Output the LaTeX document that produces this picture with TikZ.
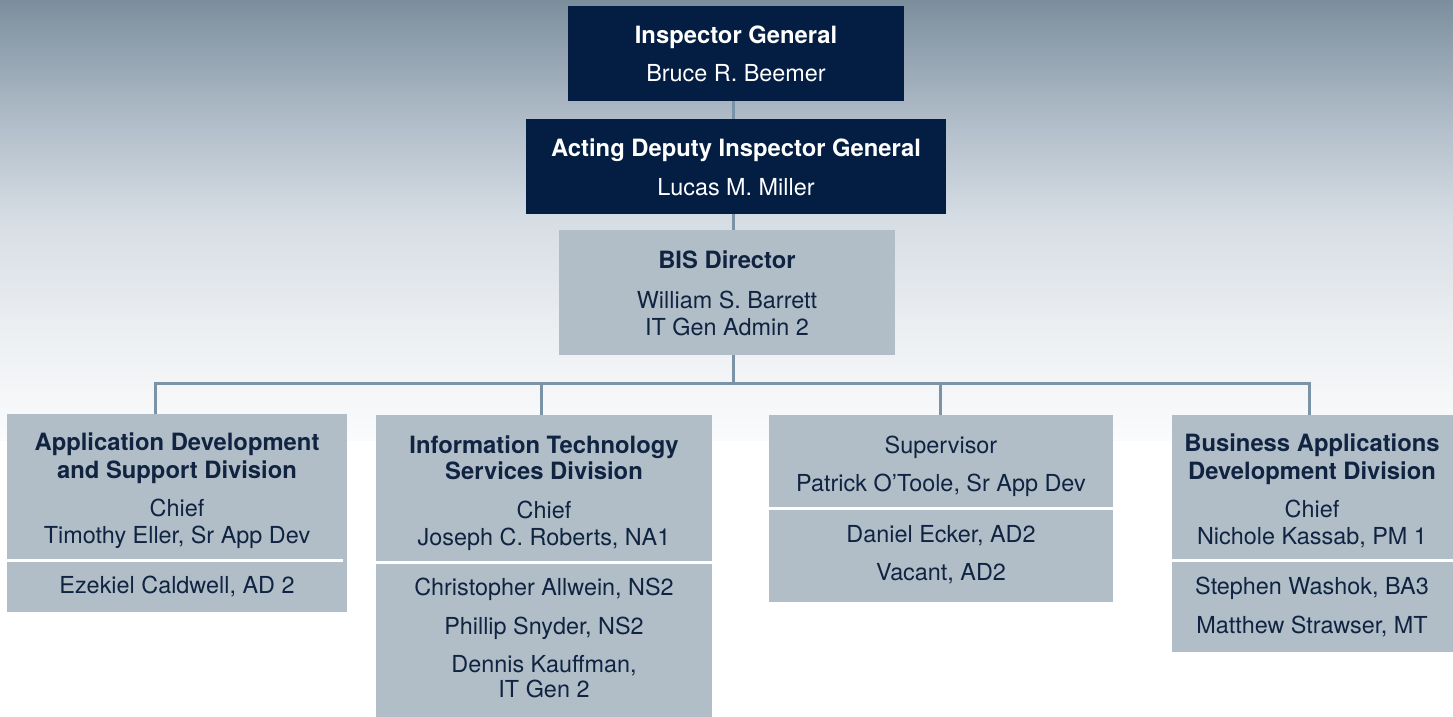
\documentclass[tikz,border=0pt]{standalone}
\usepackage{fontspec}
\setmainfont{TeX Gyre Heros}
\usetikzlibrary{calc}

\definecolor{navy}{RGB}{3,30,66}
\definecolor{steel}{RGB}{177,190,200}
\definecolor{inkblue}{RGB}{16,36,66}
\definecolor{wire}{RGB}{122,147,166}
\definecolor{skyA}{RGB}{124,142,157}
\definecolor{skyB}{RGB}{172,185,197}
\definecolor{skyC}{RGB}{214,221,228}
\definecolor{skyD}{RGB}{236,239,242}
\definecolor{skyE}{RGB}{250,251,252}

% soft grey-blue sky fading to white behind the upper part of the chart
\pgfdeclareverticalshading{skyfade}{100bp}{%
  color(0bp)=(skyE); color(25bp)=(skyE); color(37.5bp)=(skyD);
  color(50bp)=(skyC); color(62.5bp)=(skyB); color(75bp)=(skyA);
  color(100bp)=(skyA)}

\tikzset{
  darkbox/.style={fill=navy, draw=none, inner sep=0pt, anchor=north west},
  lightbox/.style={fill=steel, draw=none, inner sep=0pt, anchor=north west},
  txt/.style={font=\fontsize{23.4}{28}\selectfont, text=inkblue, anchor=base, inner sep=0pt},
  ttl/.style={txt, font=\fontsize{23.8}{28}\selectfont\bfseries},
  wtxt/.style={txt, text=white},
  wttl/.style={ttl, text=white},
  conn/.style={draw=wire, line width=3pt},
  sep/.style={draw=white, line width=3pt},
}

\begin{document}
\begin{tikzpicture}[x=1pt,y=-1pt]
\useasboundingbox (0,0) rectangle (1453,717);
\fill[white] (0,0) rectangle (1453,717);
\shade[shading=skyfade] (0,0) rectangle (1453,440);

% ---- top of the hierarchy
\node[darkbox, minimum width=336, minimum height=94.7] (ig) at (568,6) {};
\node[wttl] (igT) at (736,43.3) {Inspector General};
\node[wtxt] (igN) at (736,81.7) {Bruce R. Beemer};

\node[darkbox, minimum width=420, minimum height=95] (adig) at (526,118.7) {};
\node[wttl] (adigT) at (736,156) {Acting Deputy Inspector General};
\node[wtxt] (adigN) at (736,195) {Lucas M. Miller};

\node[lightbox, minimum width=336, minimum height=124.5] (bis) at (559,230) {};
\node[ttl] (bisT) at (727,268) {BIS Director};
\node[txt] (bisN) at (727,308) {William S. Barrett};
\node[txt] (bisR) at (727,335) {IT Gen Admin 2};

% ---- divisions
\node[lightbox, minimum width=340, minimum height=198] (divA) at (7,414) {};
\node[lightbox, minimum width=336, minimum height=302] (divB) at (376,415) {};
\node[lightbox, minimum width=344, minimum height=187] (divC) at (769,415) {};
\node[lightbox, minimum width=281, minimum height=237] (divD) at (1172,415) {};

% white rules between chief and staff
\coordinate (sepA) at (0,560);
\coordinate (sepB) at (0,562);
\coordinate (sepC) at (0,508);
\coordinate (sepD) at (0,560);
\draw[sep] (divA.west |- sepA) -- ([xshift=-4pt]divA.east |- sepA);
\draw[sep] (divB.west |- sepB) -- (divB.east |- sepB);
\draw[sep] (divC.west |- sepC) -- (divC.east |- sepC);
\draw[sep] (divD.west |- sepD) -- (divD.east |- sepD);

% Application Development and Support Division
\node[ttl] (aT1) at (177,450.7) {Application Development};
\node[ttl] (aT2) at (177,478.3) {and Support Division};
\node[txt] (aC) at (177,516.7) {Chief};
\node[txt] (aN) at (177,543.3) {Timothy Eller, Sr App Dev};
\node[txt] (aS1) at (177,593.3) {Ezekiel Caldwell, AD 2};

% Information Technology Services Division
\node[ttl] (bT1) at (544,453.3) {Information Technology};
\node[ttl] (bT2) at (544,479) {Services Division};
\node[txt] (bC) at (544,518.3) {Chief};
\node[txt] (bN) at (544,545) {Joseph C. Roberts, NA1};
\node[txt] (bS1) at (544,595) {Christopher Allwein, NS2};
\node[txt] (bS2) at (544,634) {Phillip Snyder, NS2};
\node[txt] (bS3) at (544,672.7) {Dennis Kauffman,};
\node[txt] (bS4) at (544,697.7) {IT Gen 2};

% Supervisor group
\node[txt] (cC) at (941,453.3) {Supervisor};
\node[txt] (cN) at (941,491.7) {Patrick O’Toole, Sr App Dev};
\node[txt] (cS1) at (941,542.7) {Daniel Ecker, AD2};
\node[txt] (cS2) at (941,580.7) {Vacant, AD2};

% Business Applications Development Division
\node[ttl] (dT1) at (1312,451.7) {Business Applications};
\node[ttl] (dT2) at (1312,479) {Development Division};
\node[txt] (dC) at (1312,517.3) {Chief};
\node[txt] (dN) at (1312,544) {Nichole Kassab, PM 1};
\node[txt] (dS1) at (1312,594.3) {Stephen Washok, BA3};
\node[txt] (dS2) at (1312,633.3) {Matthew Strawser, MT};

% ---- reporting lines
\coordinate (busA) at (155,383);
\coordinate (busB) at (541,383);
\coordinate (busC) at (940,383);
\coordinate (busD) at (1309,383);
\coordinate (trunk) at (733,383);

\draw[conn] (ig.south -| trunk) -- (adig.north -| trunk);
\draw[conn] (adig.south -| trunk) -- (bis.north -| trunk);
\draw[conn] (bis.south -| trunk) -- (trunk);
\draw[conn] ([xshift=-1.5pt]busA) -- ([xshift=1.5pt]busD);
\draw[conn] (busA) -- (busA |- divA.north);
\draw[conn] (busB) -- (busB |- divB.north);
\draw[conn] (busC) -- (busC |- divC.north);
\draw[conn] (busD) -- (busD |- divD.north);
\end{tikzpicture}
\end{document}
